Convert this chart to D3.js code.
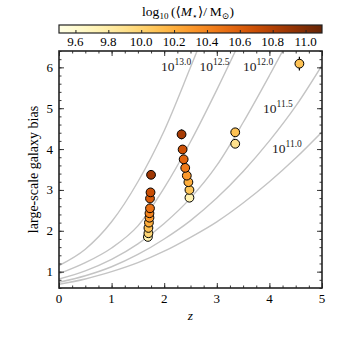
<!DOCTYPE html>
<html>
<head>
<meta charset="utf-8">
<script src="https://cdn.jsdelivr.net/npm/d3@7"></script>
<style>
  body { margin: 0; background: #fff; }
  text { font-family: "Liberation Serif", "DejaVu Serif", serif; }
</style>
</head>
<body>
<div id="chart"></div>
<script>
// galaxy samples: redshift, bias, error, log stellar mass
var sampleZ    = [1.75, 1.74, 1.73, 1.73, 1.72, 1.72, 1.71, 1.70, 1.70, 1.69,
                  2.33, 2.35, 2.37, 2.40, 2.43, 2.46, 2.48, 2.48,
                  3.35, 3.35,
                  4.57];
var sampleBias = [3.37, 2.94, 2.79, 2.55, 2.43, 2.32, 2.20, 2.07, 1.94, 1.85,
                  4.36, 3.99, 3.75, 3.54, 3.35, 3.19, 3.00, 2.81,
                  4.41, 4.13,
                  6.09];
var sampleErr  = [0.09, 0.06, 0.05, 0.04, 0.04, 0.04, 0.04, 0.04, 0.04, 0.04,
                  0.12, 0.07, 0.06, 0.05, 0.05, 0.05, 0.05, 0.05,
                  0.06, 0.06,
                  0.17];
var sampleMass = [10.88, 10.70, 10.62, 10.50, 10.40, 10.30, 10.20, 10.10, 9.98, 9.74,
                  10.85, 10.68, 10.56, 10.45, 10.30, 10.20, 10.08, 9.75,
                  10.10, 9.90,
                  10.10];

// halo bias tracks
var haloLogM  = ["13.0", "12.5", "12.0", "11.5", "11.0"];
var trackZ    = [0, 0.5, 1, 1.5, 2, 2.5, 3, 3.5, 4, 4.5, 5];
var trackBias = [
  [1.15, 1.55, 2.22, 3.20, 4.45, 6.00, 7.60, null, null, null, null],
  [0.95, 1.22, 1.58, 2.12, 3.05, 4.18, 5.45, 6.80, null, null, null],
  [0.82, 1.02, 1.30, 1.68, 2.18, 2.80, 3.60, 4.65, 5.80, 7.00, null],
  [0.74, 0.90, 1.12, 1.42, 1.80, 2.25, 2.80, 3.45, 4.20, 5.05, 6.05],
  [0.69, 0.82, 1.00, 1.22, 1.50, 1.84, 2.22, 2.68, 3.20, 3.78, 4.42]
];
var labelZ    = [1.94, 2.67, 3.50, 3.88, 4.05];
var labelBias = [5.90, 5.90, 5.91, 4.88, 3.90];

var xTicks = [0, 1, 2, 3, 4, 5];
var yTicks = [1, 2, 3, 4, 5, 6];
var cbTicks = [9.6, 9.8, 10.0, 10.2, 10.4, 10.6, 10.8, 11.0];

var W = 339, H = 339;
var padL = 59, padR = 322, padT = 51, padB = 288;

var svg = d3.select("#chart").append("svg").attr("width", W).attr("height", H);

var x = d3.scaleLinear().domain([0, 5]).range([padL, padR]);
var y = d3.scaleLinear().domain([0.6, 6.4]).range([padB, padT]);
var color = d3.scaleSequential(d3.interpolateYlOrBr).domain([9.5, 11.1]);

svg.append("clipPath").attr("id", "plotclip")
    .append("rect")
    .attr("x", padL).attr("y", padT)
    .attr("width", padR - padL).attr("height", padB - padT);

// tracks
var line = d3.line()
    .defined(function(d) { return d[1] != null; })
    .x(function(d) { return x(d[0]); })
    .y(function(d) { return y(d[1]); })
    .curve(d3.curveMonotoneX);

svg.append("g").attr("clip-path", "url(#plotclip)")
    .selectAll("path")
    .data(trackBias)
    .enter().append("path")
    .attr("fill", "none")
    .attr("stroke", "#c4c4c4")
    .attr("stroke-width", 1.4)
    .attr("d", function(b) {
        return line(trackZ.map(function(z, i) { return [z, b[i]]; }));
    });

// track labels
var lab = svg.append("g").selectAll("text")
    .data(haloLogM)
    .enter().append("text")
    .attr("x", function(d, i) { return x(labelZ[i]); })
    .attr("y", function(d, i) { return y(labelBias[i]); })
    .style("font-size", "13.5px")
    .style("fill", "#1a1a1a");
lab.append("tspan").text("10");
lab.append("tspan").attr("dy", -6).style("font-size", "9.5px").text(function(d) { return d; });

// error bars + points
var pts = d3.range(sampleZ.length);
svg.append("g").selectAll("line")
    .data(pts)
    .enter().append("line")
    .attr("x1", function(i) { return x(sampleZ[i]); })
    .attr("x2", function(i) { return x(sampleZ[i]); })
    .attr("y1", function(i) { return y(sampleBias[i] - sampleErr[i]); })
    .attr("y2", function(i) { return y(sampleBias[i] + sampleErr[i]); })
    .attr("stroke", "#000")
    .attr("stroke-width", 1.2);

svg.append("g").selectAll("circle")
    .data(pts.slice().sort(function(a, b) { return sampleMass[a] - sampleMass[b]; }))
    .enter().append("circle")
    .attr("cx", function(i) { return x(sampleZ[i]); })
    .attr("cy", function(i) { return y(sampleBias[i]); })
    .attr("r", 4.4)
    .attr("fill", function(i) { return color(sampleMass[i]); })
    .attr("stroke", "#000")
    .attr("stroke-width", 1);

// axes, ticks inside on all four sides
function minor(lo, hi, step) {
    return d3.range(Math.round((hi - lo) / step) + 1).map(function(k) { return +(lo + k * step).toFixed(3); });
}
var xMinor = minor(0, 5, 0.25);
var yMinor = minor(0.6, 6.4, 0.2);

svg.append("g").attr("transform", "translate(0," + padB + ")")
    .call(d3.axisTop(x).tickValues(xMinor).tickSize(2.5).tickFormat(""));
svg.append("g").attr("transform", "translate(0," + padB + ")")
    .call(d3.axisTop(x).tickValues(xTicks).tickSize(5).tickFormat(""));
svg.append("g").attr("transform", "translate(0," + padT + ")")
    .call(d3.axisBottom(x).tickValues(xMinor).tickSize(2.5).tickFormat(""));
svg.append("g").attr("transform", "translate(0," + padT + ")")
    .call(d3.axisBottom(x).tickValues(xTicks).tickSize(5).tickFormat(""));
svg.append("g").attr("transform", "translate(" + padL + ",0)")
    .call(d3.axisRight(y).tickValues(yMinor).tickSize(2.5).tickFormat(""));
svg.append("g").attr("transform", "translate(" + padL + ",0)")
    .call(d3.axisRight(y).tickValues(yTicks).tickSize(5).tickFormat(""));
svg.append("g").attr("transform", "translate(" + padR + ",0)")
    .call(d3.axisLeft(y).tickValues(yMinor).tickSize(2.5).tickFormat(""));
svg.append("g").attr("transform", "translate(" + padR + ",0)")
    .call(d3.axisLeft(y).tickValues(yTicks).tickSize(5).tickFormat(""));
svg.selectAll(".domain").remove();
svg.selectAll(".tick line").attr("stroke", "#222").attr("stroke-width", 0.9);

svg.append("rect")
    .attr("x", padL).attr("y", padT)
    .attr("width", padR - padL).attr("height", padB - padT)
    .attr("fill", "none").attr("stroke", "#222").attr("stroke-width", 1.6);

svg.append("g").selectAll("text")
    .data(xTicks)
    .enter().append("text")
    .attr("x", function(d) { return x(d); })
    .attr("y", padB + 15)
    .attr("text-anchor", "middle")
    .style("font-size", "13px")
    .text(function(d) { return d; });

svg.append("g").selectAll("text")
    .data(yTicks)
    .enter().append("text")
    .attr("x", padL - 6)
    .attr("y", function(d) { return y(d) + 4.5; })
    .attr("text-anchor", "end")
    .style("font-size", "13px")
    .text(function(d) { return d; });

svg.append("text")
    .attr("x", (padL + padR) / 2)
    .attr("y", padB + 32)
    .attr("text-anchor", "middle")
    .style("font-size", "13.5px")
    .style("font-style", "italic")
    .text("z");

svg.append("text")
    .attr("transform", "translate(" + 38 + "," + ((padT + padB) / 2) + ") rotate(-90)")
    .attr("text-anchor", "middle")
    .style("font-size", "14px")
    .text("large-scale galaxy bias");

// colour bar
var cbTop = 25, cbH = 8;
var cx = d3.scaleLinear().domain([9.5, 11.1]).range([padL, padR]);
var grad = svg.append("defs").append("linearGradient").attr("id", "cbgrad");
grad.selectAll("stop")
    .data(d3.range(0, 1.0001, 0.05))
    .enter().append("stop")
    .attr("offset", function(t) { return t; })
    .attr("stop-color", function(t) { return color(9.5 + t * 1.6); });

svg.append("rect")
    .attr("x", padL).attr("y", cbTop)
    .attr("width", padR - padL).attr("height", cbH)
    .attr("fill", "url(#cbgrad)")
    .attr("stroke", "#222").attr("stroke-width", 1.2);

svg.append("g").attr("transform", "translate(0," + (cbTop + cbH) + ")")
    .call(d3.axisTop(cx).tickValues(cbTicks).tickSize(3).tickFormat(""))
    .call(function(g) { g.select(".domain").remove(); g.selectAll("line").attr("stroke", "#222"); });

svg.append("g").selectAll("text")
    .data(cbTicks)
    .enter().append("text")
    .attr("x", function(d) { return cx(d); })
    .attr("y", cbTop + cbH + 13)
    .attr("text-anchor", "middle")
    .style("font-size", "13px")
    .text(function(d) { return d.toFixed(1); });

var title = svg.append("text")
    .attr("x", 188)
    .attr("y", 16)
    .attr("text-anchor", "middle")
    .style("font-size", "13.5px");
title.append("tspan").text("log");
title.append("tspan").attr("dy", 3).style("font-size", "9px").text("10");
title.append("tspan").attr("dy", -3).text("\u2009(\u27E8");
title.append("tspan").style("font-style", "italic").text("M");
title.append("tspan").attr("dy", 3).style("font-size", "9px").text("\u22C6");
title.append("tspan").attr("dy", -3).text("\u27E9/\u2009M");
title.append("tspan").attr("dy", 3).style("font-size", "9px").text("\u2299");
title.append("tspan").attr("dy", -3).text(")");
</script>
</body>
</html>
